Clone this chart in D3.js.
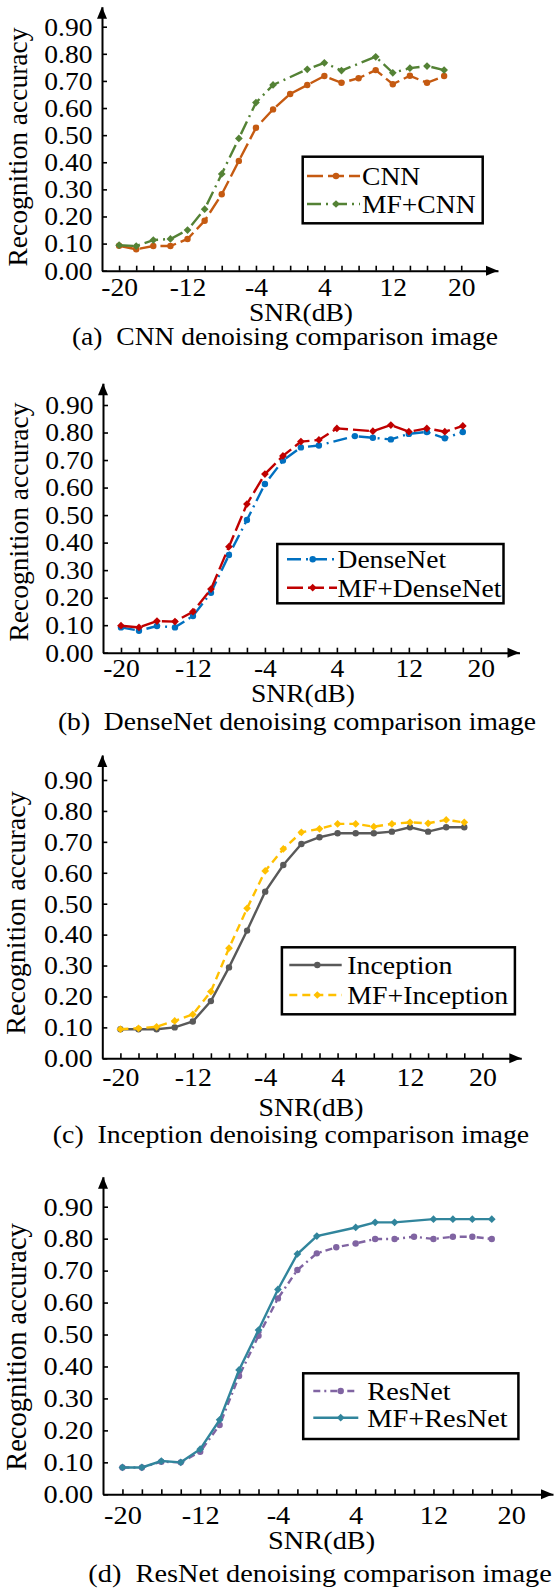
<!DOCTYPE html>
<html>
<head>
<meta charset="utf-8">
<script src="https://cdn.jsdelivr.net/npm/d3@7"></script>
<style>
  body { margin: 0; background: #fff; }
  svg { display: block; }
  text { font-family: "Liberation Serif", "Times New Roman", serif; fill: #000; }
</style>
</head>
<body>
<svg id="chart" width="556" height="1589"></svg>
<script>
// SNR values (dB) shared by every series
const snr = [-20, -18, -16, -14, -12, -10, -8, -6, -4, -2, 0, 2, 4, 6, 8, 10, 12, 14, 16, 18];
const xTickValues = [-20, -18, -16, -14, -12, -10, -8, -6, -4, -2, 0, 2, 4, 6, 8, 10, 12, 14, 16, 18, 20];
const xTickLabels = [-20, -12, -4, 4, 12, 20];
const yTickValues = [0, 0.1, 0.2, 0.3, 0.4, 0.5, 0.6, 0.7, 0.8, 0.9];

// recognition accuracy (null = no marker drawn there)
const cnn        = [0.092, 0.079, 0.091, 0.091, 0.117, 0.184, 0.282, 0.405, 0.527, 0.595, 0.652, 0.685, 0.718, 0.693, 0.710, 0.740, 0.688, 0.719, 0.693, 0.718];
const mfCnn      = [0.094, 0.091, 0.113, 0.117, 0.150, 0.227, 0.357, 0.488, 0.620, 0.685, null, 0.743, 0.767, 0.738, null, 0.789, 0.730, 0.747, 0.755, 0.740];
const denseNet   = [0.092, 0.080, 0.097, 0.092, 0.133, 0.218, 0.355, 0.482, 0.613, 0.698, 0.746, 0.753, null, 0.787, 0.781, 0.775, 0.795, 0.802, 0.779, 0.802];
const mfDenseNet = [0.098, 0.092, 0.115, 0.113, 0.149, 0.231, 0.385, 0.540, 0.649, 0.715, 0.767, 0.773, 0.815, null, 0.805, 0.827, 0.803, 0.815, 0.803, 0.824];
const inception  = [0.094, 0.094, 0.094, 0.100, 0.119, 0.185, 0.294, 0.413, 0.539, 0.625, 0.693, 0.715, 0.728, 0.728, 0.728, 0.733, 0.747, 0.733, 0.747, 0.747];
const mfInception= [0.094, 0.097, 0.102, 0.121, 0.142, 0.216, 0.356, 0.485, 0.606, 0.677, 0.731, 0.742, 0.758, 0.758, 0.749, 0.758, 0.763, 0.760, 0.771, 0.763];
const resNet     = [0.084, 0.084, 0.102, 0.100, 0.133, 0.217, 0.370, 0.496, 0.613, 0.702, 0.754, 0.773, 0.785, 0.799, 0.799, 0.806, 0.799, 0.806, 0.806, 0.799];
const mfResNet   = [0.084, 0.084, 0.104, 0.100, 0.141, 0.233, 0.389, 0.514, 0.641, 0.752, 0.808, null, 0.835, 0.851, 0.851, null, 0.861, 0.861, 0.861, 0.861];

const panels = [
  {
    caption: "(a)\u00a0 CNN denoising comparison image",
    left: 102, right: 498, y0: 270.7, y90: 26.7, top: 6.7, sx: 1.06, lblGap: 25,
    snrX: 301, snrY: 321, capX: 285, capY: 345, titleX: 27, titleY: 147, titleSize: 27.5,
    legend: { x: 302.7, y: 156.7, w: 180, h: 66.6, lx1: 307, lx2: 360, mx: 336, tx: 362, rows: [176, 204] },
    series: [
      { name: "CNN", values: cnn, color: "#C55A11", dash: "16,5", marker: "circle" },
      { name: "MF+CNN", values: mfCnn, color: "#548235", dash: "14,5,2,5", marker: "diamond" }
    ]
  },
  {
    caption: "(b)\u00a0 DenseNet denoising comparison image",
    left: 103, right: 519.5, y0: 652.7, y90: 405, top: 383.3, sx: 1.06, lblGap: 24.6,
    snrX: 303, snrY: 702, capX: 297, capY: 730, titleX: 27.5, titleY: 522, titleSize: 27.5,
    legend: { x: 277.3, y: 544, w: 226.2, h: 59.3, lx1: 287, lx2: 337, mx: 312.7, tx: 337.5, rows: [559.3, 587.7] },
    series: [
      { name: "DenseNet", values: denseNet, color: "#0070C0", dash: "14,5,2,5", marker: "circle" },
      { name: "MF+DenseNet", values: mfDenseNet, color: "#C00000", dash: "16,5", marker: "diamond" }
    ]
  },
  {
    caption: "(c)\u00a0 Inception denoising comparison image",
    left: 102.3, right: 521.3, y0: 1058.3, y90: 780, top: 755, sx: 1.07, lblGap: 27.4,
    snrX: 311, snrY: 1115.7, capX: 291, capY: 1143.3, titleX: 24.5, titleY: 913, titleSize: 28,
    legend: { x: 281.9, y: 947.3, w: 233, h: 67, lx1: 289.3, lx2: 341.7, mx: 317.3, tx: 347.3, rows: [965, 995] },
    series: [
      { name: "Inception", values: inception, color: "#595959", dash: null, marker: "circle" },
      { name: "MF+Inception", values: mfInception, color: "#FFC000", dash: "8,5", marker: "diamond" }
    ]
  },
  {
    caption: "(d)\u00a0 ResNet denoising comparison image",
    left: 103, right: 553, y0: 1494.3, y90: 1206.7, top: 1176.7, sx: 1.09, lblGap: 29.7,
    snrX: 321.6, snrY: 1549, capX: 320, capY: 1581.7, titleX: 26, titleY: 1347, titleSize: 28.5,
    legend: { x: 303.2, y: 1373.3, w: 215.2, h: 65.7, lx1: 313.3, lx2: 358.3, mx: 340.7, tx: 367.3, rows: [1391, 1417.7] },
    series: [
      { name: "ResNet", values: resNet, color: "#8064A2", dash: "7,4,2,4", marker: "circle" },
      { name: "MF+ResNet", values: mfResNet, color: "#31859C", dash: null, marker: "diamond" }
    ]
  }
];

const svg = d3.select("#chart");
const FONT = 26;

function drawMarker(g, type, cx, cy, color) {
  if (type === "circle") {
    g.append("circle").attr("cx", cx).attr("cy", cy).attr("r", 3.2).attr("fill", color);
  } else {
    g.append("path")
      .attr("d", d3.symbol(d3.symbolSquare, 30)())
      .attr("transform", `translate(${cx},${cy}) rotate(45)`)
      .attr("fill", color);
  }
}

function stretchedText(g, str, x, y, sx, anchor) {
  return g.append("text")
    .attr("transform", `translate(${x},${y}) scale(${sx},1)`)
    .attr("text-anchor", anchor || "middle")
    .attr("font-size", FONT)
    .text(str);
}

panels.forEach(p => {
  const g = svg.append("g");

  // x: the y axis sits at -22 dB, the arrow tip at about 24.3 dB
  const x = d3.scaleLinear().domain([-22, 24.3]).range([p.left, p.right]);
  const y0 = d3.scaleLinear().domain([0, 0.9]).range([p.y0, p.y90]);
  const y = d3.scaleLinear().domain([0, y0.invert(p.top)]).range([p.y0, p.top]);

  // x axis
  const xAxis = g.append("g")
    .attr("transform", `translate(0,${p.y0})`)
    .call(d3.axisBottom(x)
      .tickValues(xTickValues)
      .tickSizeInner(-5)
      .tickSizeOuter(0)
      .tickPadding(p.lblGap - 0.71 * FONT)
      .tickFormat(d => xTickLabels.includes(d) ? String(d) : ""));
  xAxis.attr("font-family", null).attr("font-size", FONT);
  xAxis.select(".domain").attr("stroke-width", 2);
  xAxis.selectAll(".tick line").attr("stroke-width", 1.6);
  xAxis.selectAll(".tick text").attr("transform", `scale(${p.sx},1)`);

  // y axis
  const yAxis = g.append("g")
    .attr("transform", `translate(${p.left},0)`)
    .call(d3.axisLeft(y)
      .tickValues(yTickValues)
      .tickSizeInner(-5)
      .tickSizeOuter(0)
      .tickPadding(9)
      .tickFormat(d3.format(".2f")));
  yAxis.attr("font-family", null).attr("font-size", FONT);
  yAxis.select(".domain").attr("stroke-width", 2);
  yAxis.selectAll(".tick line").attr("stroke-width", 1.6);
  yAxis.selectAll(".tick text").attr("transform", `scale(${p.sx},1)`);

  // arrow heads
  g.append("path")
    .attr("d", `M${p.right},${p.y0} L${p.right - 12},${p.y0 - 5} L${p.right - 12},${p.y0 + 5} Z`)
    .attr("fill", "#000");
  g.append("path")
    .attr("d", `M${p.left},${p.top} L${p.left - 5},${p.top + 12} L${p.left + 5},${p.top + 12} Z`)
    .attr("fill", "#000");

  // series
  const line = d3.line().x(d => x(d.s)).y(d => y(d.v));
  p.series.forEach(s => {
    const pts = snr.map((v, i) => ({ s: v, v: s.values[i] })).filter(d => d.v != null);
    g.append("path")
      .datum(pts)
      .attr("fill", "none")
      .attr("stroke", s.color)
      .attr("stroke-width", 2.4)
      .attr("stroke-dasharray", s.dash)
      .attr("d", line);
    pts.forEach(d => drawMarker(g, s.marker, x(d.s), y(d.v), s.color));
  });

  // legend
  const L = p.legend;
  g.append("rect")
    .attr("x", L.x).attr("y", L.y).attr("width", L.w).attr("height", L.h)
    .attr("fill", "#fff").attr("stroke", "#000").attr("stroke-width", 2.5);
  p.series.forEach((s, i) => {
    const cy = L.rows[i];
    g.append("line")
      .attr("x1", L.lx1).attr("x2", L.lx2).attr("y1", cy).attr("y2", cy)
      .attr("stroke", s.color).attr("stroke-width", 2.4)
      .attr("stroke-dasharray", s.dash);
    drawMarker(g, s.marker, L.mx, cy, s.color);
    stretchedText(g, s.name, L.tx, cy + 9, p.sx, "start");
  });

  // axis titles and caption
  g.append("text")
    .attr("transform", `translate(${p.titleX},${p.titleY}) rotate(-90)`)
    .attr("text-anchor", "middle")
    .attr("font-size", p.titleSize)
    .text("Recognition accuracy");
  stretchedText(g, "SNR(dB)", p.snrX, p.snrY, p.sx);
  stretchedText(g, p.caption, p.capX, p.capY, p.sx);
});
</script>
</body>
</html>
